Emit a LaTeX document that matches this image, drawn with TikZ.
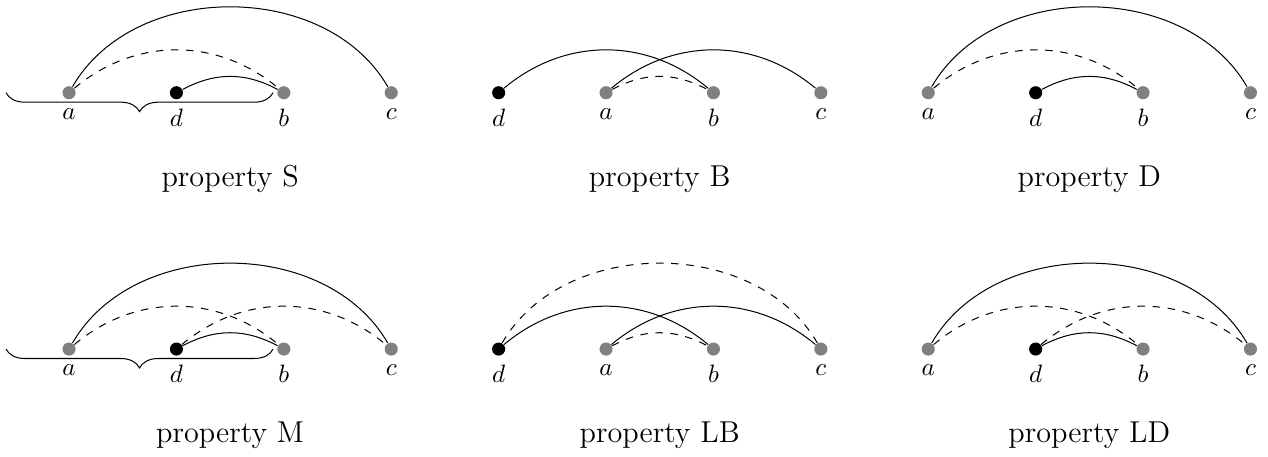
\documentclass[tikz,border=0pt]{standalone}
\usepackage{tikz}
\usetikzlibrary{positioning,decorations.pathreplacing}

\begin{document}
\begin{tikzpicture}[vtx/.style={circle, fill=gray, inner sep=0pt, minimum size=5.2pt}, dvtx/.style={vtx, fill=black}, bendL/.style={bend left=60}, bendM/.style={bend left=40}, bendS/.style={bend left=28}, caption/.style={anchor=base, font=\large}, under/.style={decorate, decoration={brace, mirror, amplitude=7.5pt}}]
\useasboundingbox (-0.964,1.295) rectangle (16.745,-5.074);
% row 1
\node[vtx, label=below:$a$] (Sa) at (0,0) {};
\node[dvtx, label=below:$d$] (Sd) at (1.5,0) {};
\node[vtx, label=below:$b$] (Sb) at (3,0) {};
\node[vtx, label=below:$c$] (Sc) at (4.5,0) {};
\draw (Sa) to[bendL] (Sc);
\draw[dashed] (Sa) to[bendM] (Sb);
\draw (Sd) to[bendS] (Sb);
\coordinate (Sl) at (-0.88,0);
\coordinate (Sr) at (2.85,0);
\draw[under] (Sl) -- (Sr);
\node[caption] (tS) at (2.25,-1.31) {property S};

\node[dvtx, label=below:$d$] (Bd) at (6,0) {};
\node[vtx, label=below:$a$] (Ba) at (7.5,0) {};
\node[vtx, label=below:$b$] (Bb) at (9,0) {};
\node[vtx, label=below:$c$] (Bc) at (10.5,0) {};
\draw (Bd) to[bendM] (Bb);
\draw (Ba) to[bendM] (Bc);
\draw[dashed] (Ba) to[bendS] (Bb);
\node[caption] (tB) at (8.25,-1.31) {property B};

\node[vtx, label=below:$a$] (Da) at (12,0) {};
\node[dvtx, label=below:$d$] (Dd) at (13.5,0) {};
\node[vtx, label=below:$b$] (Db) at (15,0) {};
\node[vtx, label=below:$c$] (Dc) at (16.5,0) {};
\draw (Da) to[bendL] (Dc);
\draw[dashed] (Da) to[bendM] (Db);
\draw (Dd) to[bendS] (Db);
\node[caption] (tD) at (14.25,-1.31) {property D};

% row 2
\node[vtx, label=below:$a$] (Ma) at (0,-3.58) {};
\node[dvtx, label=below:$d$] (Md) at (1.5,-3.58) {};
\node[vtx, label=below:$b$] (Mb) at (3,-3.58) {};
\node[vtx, label=below:$c$] (Mc) at (4.5,-3.58) {};
\draw (Ma) to[bendL] (Mc);
\draw[dashed] (Ma) to[bendM] (Mb);
\draw[dashed] (Md) to[bendM] (Mc);
\draw (Md) to[bendS] (Mb);
\coordinate (Ml) at (-0.88,-3.58);
\coordinate (Mr) at (2.85,-3.58);
\draw[under] (Ml) -- (Mr);
\node[caption] (tM) at (2.25,-4.89) {property M};

\node[dvtx, label=below:$d$] (LBd) at (6,-3.58) {};
\node[vtx, label=below:$a$] (LBa) at (7.5,-3.58) {};
\node[vtx, label=below:$b$] (LBb) at (9,-3.58) {};
\node[vtx, label=below:$c$] (LBc) at (10.5,-3.58) {};
\draw[dashed] (LBd) to[bendL] (LBc);
\draw (LBd) to[bendM] (LBb);
\draw (LBa) to[bendM] (LBc);
\draw[dashed] (LBa) to[bendS] (LBb);
\node[caption] (tLB) at (8.25,-4.89) {property LB};

\node[vtx, label=below:$a$] (LDa) at (12,-3.58) {};
\node[dvtx, label=below:$d$] (LDd) at (13.5,-3.58) {};
\node[vtx, label=below:$b$] (LDb) at (15,-3.58) {};
\node[vtx, label=below:$c$] (LDc) at (16.5,-3.58) {};
\draw (LDa) to[bendL] (LDc);
\draw[dashed] (LDa) to[bendM] (LDb);
\draw[dashed] (LDd) to[bendM] (LDc);
\draw (LDd) to[bendS] (LDb);
\node[caption] (tLD) at (14.25,-4.89) {property LD};
\end{tikzpicture}
\end{document}
